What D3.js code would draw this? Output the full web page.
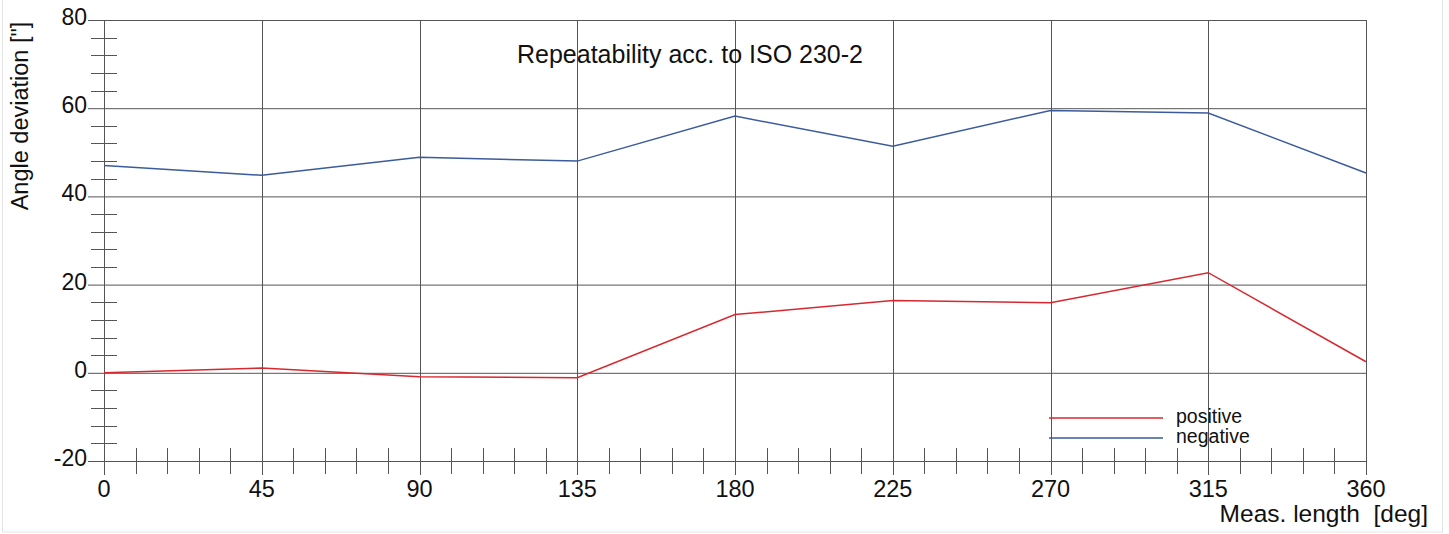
<!DOCTYPE html>
<html>
<head>
<meta charset="utf-8">
<script src="https://cdn.jsdelivr.net/npm/d3@7"></script>
<style>
  body { margin: 0; background: #fff; }
  text { font-family: "Liberation Sans", Arial, sans-serif; fill: #111; }
</style>
</head>
<body>
<svg id="chart" width="1449" height="534"></svg>
<script>
// data
var positions = [0, 45, 90, 135, 180, 225, 270, 315, 360];
var positive = [0, 1.1, -0.9, -1.1, 13.2, 16.4, 15.9, 22.7, 2.5];
var negative = [47.0, 44.8, 48.9, 48.0, 58.2, 51.4, 59.5, 58.9, 45.3];
var xTicks = [0, 45, 90, 135, 180, 225, 270, 315, 360];
var yTicks = [-20, 0, 20, 40, 60, 80];

var margin = {top: 20, left: 104};
var width = 1262;
var height = 441;

var svg = d3.select("#chart");

// light frame round the picture
svg.append("rect")
    .attr("x", 2.5).attr("y", -2)
    .attr("width", 1440).attr("height", 534)
    .attr("fill", "none")
    .attr("stroke", "#e4e4e4");

var g = svg.append("g")
    .attr("transform", "translate(" + margin.left + "," + margin.top + ")");

var xScale = d3.scaleLinear().domain([0, 360]).range([0, width]);
var yScale = d3.scaleLinear().domain([-20, 80]).range([height, 0]);

// horizontal grid lines with labels
g.selectAll(".hgrid")
    .data(yTicks)
    .enter().append("line")
    .attr("class", "hgrid")
    .attr("x1", -16).attr("x2", width)
    .attr("y1", function(d) { return yScale(d) + 0.5; })
    .attr("y2", function(d) { return yScale(d) + 0.5; })
    .attr("stroke", "#555").attr("stroke-width", 1);

g.selectAll(".ylab")
    .data(yTicks)
    .enter().append("text")
    .attr("x", -17)
    .attr("y", function(d) { return yScale(d) + 5; })
    .attr("text-anchor", "end")
    .style("font-size", "23px")
    .text(function(d) { return d; });

// vertical grid lines with labels
g.selectAll(".vgrid")
    .data(xTicks)
    .enter().append("line")
    .attr("class", "vgrid")
    .attr("x1", function(d) { return Math.round(xScale(d)) + 0.5; })
    .attr("x2", function(d) { return Math.round(xScale(d)) + 0.5; })
    .attr("y1", 0).attr("y2", height + 14)
    .attr("stroke", "#555").attr("stroke-width", 1);

g.selectAll(".xlab")
    .data(xTicks)
    .enter().append("text")
    .attr("x", function(d) { return xScale(d); })
    .attr("y", height + 36)
    .attr("text-anchor", "middle")
    .style("font-size", "23.5px")
    .text(function(d) { return d; });

// minor ticks
var yMinor = d3.range(-20, 80.1, 4).filter(function(d) { return d % 20 !== 0; });
g.selectAll(".ymin")
    .data(yMinor)
    .enter().append("line")
    .attr("x1", -13).attr("x2", 13)
    .attr("y1", function(d) { return Math.round(yScale(d)) + 0.5; })
    .attr("y2", function(d) { return Math.round(yScale(d)) + 0.5; })
    .attr("stroke", "#555");

var xMinor = d3.range(0, 360.1, 9).filter(function(d) { return d % 45 !== 0; });
g.selectAll(".xmin")
    .data(xMinor)
    .enter().append("line")
    .attr("x1", function(d) { return Math.round(xScale(d)) + 0.5; })
    .attr("x2", function(d) { return Math.round(xScale(d)) + 0.5; })
    .attr("y1", height - 13).attr("y2", height + 13)
    .attr("stroke", "#555");

// series lines
var line = d3.line()
    .x(function(d, i) { return xScale(positions[i]); })
    .y(function(d) { return yScale(d); });

g.append("path")
    .datum(negative)
    .attr("fill", "none")
    .attr("stroke", "#3b5b9c")
    .attr("stroke-width", 1.5)
    .attr("d", line);

g.append("path")
    .datum(positive)
    .attr("fill", "none")
    .attr("stroke", "#d8282f")
    .attr("stroke-width", 1.5)
    .attr("d", line);

// title
svg.append("text")
    .attr("x", 690).attr("y", 63)
    .attr("text-anchor", "middle")
    .style("font-size", "25px")
    .text("Repeatability acc. to ISO 230-2");

// legend
var legend = [["positive", "#d8282f"], ["negative", "#3b5b9c"]];
legend.forEach(function(item, i) {
    var y = 418 + i * 20;
    svg.append("line")
        .attr("x1", 1049).attr("x2", 1163)
        .attr("y1", y).attr("y2", y)
        .attr("stroke", item[1]).attr("stroke-width", 1.5);
    svg.append("text")
        .attr("x", 1176).attr("y", y + 5)
        .style("font-size", "19.5px")
        .text(item[0]);
});

// axis titles
svg.append("text")
    .attr("transform", "translate(28,116) rotate(-90)")
    .attr("text-anchor", "middle")
    .style("font-size", "23.5px")
    .text("Angle deviation [\"]");

svg.append("text")
    .attr("x", 1428).attr("y", 522)
    .attr("text-anchor", "end")
    .style("font-size", "24.5px")
    .style("white-space", "pre")
    .text("Meas. length  [deg]");
</script>
</body>
</html>
